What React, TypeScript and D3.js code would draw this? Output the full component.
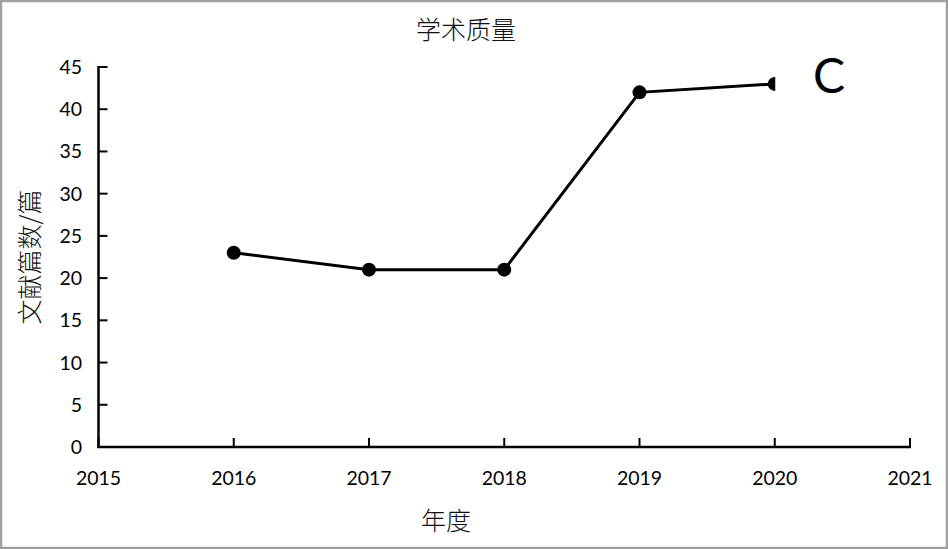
import React, { useEffect } from "react";
import * as d3 from "d3";

const years = [2016, 2017, 2018, 2019, 2020];
const counts = [23, 21, 21, 42, 43];
const xTicks = [2015, 2016, 2017, 2018, 2019, 2020, 2021];
const yTicks = [0, 5, 10, 15, 20, 25, 30, 35, 40, 45];
const title = "学术质量";
const xLabel = "年度";
const yLabel = "文献篇数/篇";
const panelLabel = "C";

const W = 948;
const H = 549;
const left = 98.5;
const right = 910;
const top = 67;
const bottom = 447;
const font = "Lato, 'Open Sans', sans-serif";
const cjk = "'Noto Sans CJK SC', sans-serif";

export default function App() {
  useEffect(() => {
    document.body.style.margin = "0";
  }, []);
  const x = d3.scaleLinear().domain([2015, 2021]).range([left, right]);
  const y = d3.scaleLinear().domain([0, 45]).range([bottom, top]);
  const line = d3
    .line<number>()
    .x((_, i) => x(years[i]))
    .y((d) => y(d));
  const lastX = x(years[years.length - 1]);
  return (
    <svg width={W} height={H} style={{ display: "block" }}>
      <rect x={0} y={0} width={W} height={H} fill="#fff" />
      <rect x={1} y={1} width={W - 2} height={H - 2} fill="none" stroke="#a0a0a0" strokeWidth={2.5} />
      <text x={466} y={39} textAnchor="middle" fontFamily={cjk} fontSize={25} fontWeight={300} fill="#111">
        {title}
      </text>
      {/* y axis */}
      <line x1={left} x2={left} y1={top - 1} y2={bottom + 1} stroke="#000" strokeWidth={2.5} />
      {yTicks.map((t) => (
        <g key={"y" + t}>
          <line x1={left} x2={left + 9} y1={y(t)} y2={y(t)} stroke="#000" strokeWidth={2} />
          <text x={82} y={y(t) + 7} textAnchor="end" fontFamily={font} fontSize={19.5} fill="#000">
            {t}
          </text>
        </g>
      ))}
      {/* x axis */}
      <line x1={left - 1} x2={right + 1} y1={bottom} y2={bottom} stroke="#000" strokeWidth={2.5} />
      {xTicks.map((t) => (
        <g key={"x" + t}>
          <line x1={x(t)} x2={x(t)} y1={bottom} y2={bottom - 9} stroke="#000" strokeWidth={2} />
          <text x={x(t)} y={485} textAnchor="middle" fontFamily={font} fontSize={19.5} fill="#000">
            {t}
          </text>
        </g>
      ))}
      <text x={446} y={530} textAnchor="middle" fontFamily={cjk} fontSize={25} fontWeight={300} fill="#111">
        {xLabel}
      </text>
      <text
        transform={`translate(39, ${(top + bottom) / 2}) rotate(-90)`}
        textAnchor="middle"
        fontFamily={cjk}
        fontSize={25}
        fontWeight={300}
        fill="#111"
      >
        {yLabel}
      </text>
      <path d={line(counts) || ""} fill="none" stroke="#000" strokeWidth={3} />
      {counts.map((c, i) => (
        <circle key={"p" + i} cx={x(years[i])} cy={y(c)} r={7} fill="#000" />
      ))}
      <rect x={lastX + 0.5} y={y(45) - 12} width={90} height={40} fill="#fff" />
      <text x={829} y={93} textAnchor="middle" fontFamily={font} fontSize={48} fill="#000">
        {panelLabel}
      </text>
    </svg>
  );
}
